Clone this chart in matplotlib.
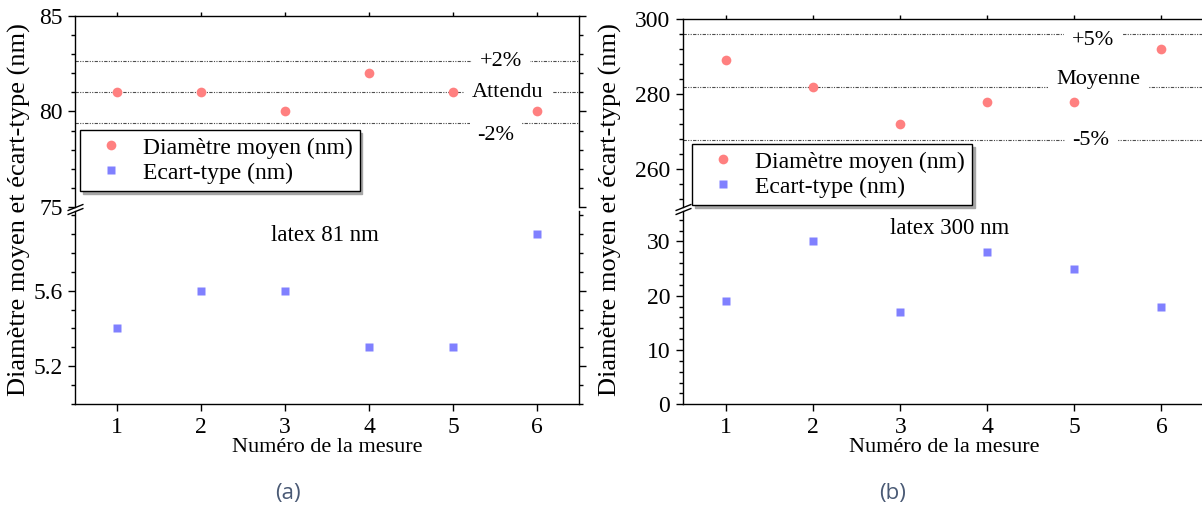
import matplotlib.pyplot as plt
from matplotlib.ticker import MultipleLocator

plt.rcParams['font.family'] = 'serif'
plt.rcParams['font.serif'] = ['Liberation Serif', 'DejaVu Serif']

mesure = [1, 2, 3, 4, 5, 6]

# (a) latex 81 nm
diam_a = [81, 81, 80, 82, 81, 80]
ecart_a = [5.4, 5.6, 5.6, 5.3, 5.3, 5.9]
attendu_a = 81.0
tol_a = 0.02

# (b) latex 300 nm
diam_b = [289, 282, 272, 278, 278, 292]
ecart_b = [19, 30, 17, 28, 25, 18]
tol_b = 0.05

lab_diam = 'Diamètre moyen (nm)'
lab_ecart = 'Ecart-type (nm)'
ylab = 'Diamètre moyen et écart-type (nm)'
xlab = 'Numéro de la mesure'

col_diam = '#ff8080'
col_ecart = '#8080ff'

fig = plt.figure(figsize=(12.02, 5.15), dpi=100, facecolor='white')
ax_a_hi = fig.add_axes([0.0624, 0.5981, 0.4193, 0.3709])
ax_a_lo = fig.add_axes([0.0624, 0.2150, 0.4193, 0.3753])
ax_b_hi = fig.add_axes([0.5680, 0.5981, 0.4345, 0.3650])
ax_b_lo = fig.add_axes([0.5680, 0.2150, 0.4345, 0.3753])


def panel(ax_hi, ax_lo, diam, ecart, refs, ref_txt, txt_xy, leg_xy, note, note_xy):
    ax_hi.plot(mesure, diam, 'o', color=col_diam, ms=7, mec='none', zorder=4, label=lab_diam)
    ax_lo.plot(mesure, ecart, 's', color=col_ecart, ms=6.3, mec='none', zorder=4, label=lab_ecart)

    for r, t, (tx, ty) in zip(refs, ref_txt, txt_xy):
        ax_hi.axhline(r, color='0.3', lw=0.8, ls=(0, (3, 1.2, 1, 1.2, 1, 1.2)), zorder=1)
        ax_hi.text(tx, ty, t, ha='center', va='center', fontsize=16, zorder=3,
                   bbox=dict(boxstyle='square,pad=0.35', fc='white', ec='none'))

    h1, l1 = ax_hi.get_legend_handles_labels()
    h2, l2 = ax_lo.get_legend_handles_labels()
    ax_hi.legend(h1 + h2, l1 + l2, loc='upper left', bbox_to_anchor=leg_xy, borderaxespad=0,
                 fontsize=17, fancybox=False, edgecolor='black', framealpha=1,
                 shadow={'shade': 0.35, 'alpha': 1}, borderpad=0.3, handlelength=2,
                 handletextpad=0.36, labelspacing=0.15)
    ax_hi.get_legend().get_frame().set_linewidth(1.0)

    ax_lo.text(note_xy[0], note_xy[1], note, transform=ax_lo.transAxes,
               ha='center', va='center', fontsize=16.5)

    for ax in (ax_hi, ax_lo):
        ax.set_xlim(0.5, 6.5)
        ax.set_xticks(mesure)
        for s in ax.spines.values():
            s.set_linewidth(1.0)
        ax.tick_params(which='both', direction='out', right=True, labelsize=17, width=1, pad=4)
        ax.tick_params(which='major', length=5)
        ax.tick_params(which='minor', length=3)

    ax_hi.spines['bottom'].set_visible(False)
    ax_hi.tick_params(axis='x', which='both', bottom=False, labelbottom=False, top=True, length=3)
    ax_lo.spines['top'].set_visible(False)
    ax_lo.tick_params(axis='x', which='both', top=False)
    ax_lo.set_xlabel(xlab, fontsize=16, labelpad=0)

    # break marks on the left axis
    slash = [(-1, -0.4), (1, 0.4)]
    ax_hi.plot([0], [0], transform=ax_hi.transAxes, marker=slash, ms=11.5, mew=1,
               color='black', clip_on=False, ls='none')
    ax_lo.plot([0], [1], transform=ax_lo.transAxes, marker=slash, ms=11.5, mew=1,
               color='black', clip_on=False, ls='none')


# (a)
refs_a = [attendu_a * (1 + tol_a), attendu_a, attendu_a * (1 - tol_a)]
panel(ax_a_hi, ax_a_lo, diam_a, ecart_a, refs_a, ['+2%', 'Attendu', '-2%'],
      [(5.57, refs_a[0]), (5.655, refs_a[1]), (5.51, 78.72)],
      (0.01, 0.403), 'latex 81 nm', (0.496, 0.871))
ax_a_hi.set_ylim(75, 85)
ax_a_hi.yaxis.set_major_locator(MultipleLocator(5))
ax_a_hi.yaxis.set_minor_locator(MultipleLocator(1))
ax_a_lo.set_ylim(5.0, 6.02)
ax_a_lo.set_yticks([5.2, 5.6])
ax_a_lo.yaxis.set_minor_locator(MultipleLocator(0.1))

# (b)
moy_b = sum(diam_b) / len(diam_b)
refs_b = [moy_b * (1 + tol_b), moy_b, moy_b * (1 - tol_b)]
panel(ax_b_hi, ax_b_lo, diam_b, ecart_b, refs_b, ['+5%', 'Moyenne', '-5%'],
      [(5.21, 294.4), (5.27, 283.8), (5.19, refs_b[2])],
      (0.018, 0.335), 'latex 300 nm', (0.511, 0.912))
ax_b_hi.set_ylim(250, 300)
ax_b_hi.yaxis.set_major_locator(MultipleLocator(20))
ax_b_hi.yaxis.set_minor_locator(MultipleLocator(4))
ax_b_lo.set_ylim(0, 35.6)
ax_b_lo.yaxis.set_major_locator(MultipleLocator(10))
ax_b_lo.yaxis.set_minor_locator(MultipleLocator(2))
# the right edge of (b) is cut off in the original
for ax in (ax_b_hi, ax_b_lo):
    ax.spines['right'].set_visible(False)
    ax.tick_params(which='both', right=False)

fig.text(19.5 / 1202, 1 - 210 / 515, ylab, rotation=90, ha='center', va='center', fontsize=19)
fig.text(610 / 1202, 1 - 210 / 515, ylab, rotation=90, ha='center', va='center', fontsize=19)

fig.text(288 / 1202, 1 - 493 / 515, '(a)', family='Open Sans', color='#4a5a75',
         fontsize=16, ha='center', va='center')
fig.text(893 / 1202, 1 - 493 / 515, '(b)', family='Open Sans', color='#4a5a75',
         fontsize=16, ha='center', va='center')

fig.savefig('out.png', dpi=100)
